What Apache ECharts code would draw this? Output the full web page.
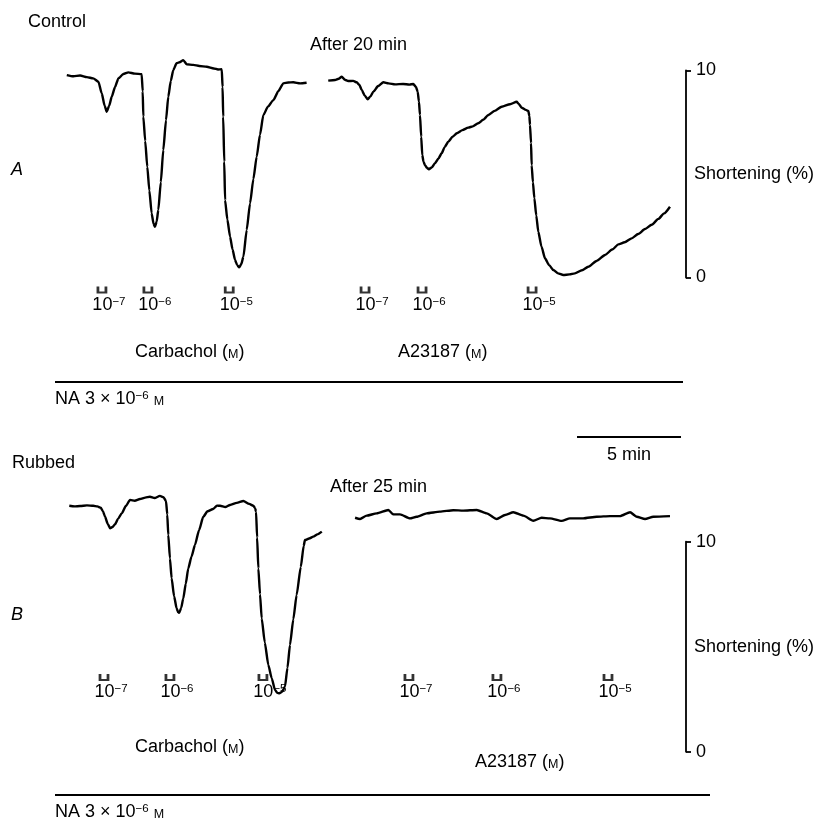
<!DOCTYPE html>
<html><head><meta charset="utf-8">
<script src="https://cdn.jsdelivr.net/npm/echarts@6/dist/echarts.min.js"></script>
<style>html,body{margin:0;padding:0;background:#fff}#c{width:830px;height:819px}</style>
</head><body><div id="c"></div>
<script>
// ---- DATA (time in min, shortening in %) ----
const ctrlCarbachol = [[0.23,9.78],[0.55,9.72],[0.87,9.76],[1.2,9.68],[1.5,9.62],[1.75,9.46],[1.91,8.9],[2.05,8.3],[2.15,8.01],[2.27,8.3],[2.39,8.73],[2.55,9.2],[2.71,9.62],[2.95,9.83],[3.19,9.91],[3.5,9.85],[3.83,9.82],[3.88,9.0],[3.91,7.77],[4.0,6.6],[4.1,5.35],[4.2,4.2],[4.31,3.1],[4.4,2.6],[4.47,2.45],[4.55,2.7],[4.63,3.26],[4.75,4.6],[4.87,6.16],[5.0,7.6],[5.11,8.73],[5.23,9.5],[5.35,10.02],[5.51,10.35],[5.65,10.4],[5.83,10.5],[6.0,10.3],[6.31,10.27],[6.6,10.22],[6.96,10.18],[7.3,10.1],[7.5,10.05],[7.68,10.06],[7.72,9.2],[7.75,7.77],[7.8,5.6],[7.84,3.74],[7.95,2.8],[8.08,1.97],[8.2,1.35],[8.32,0.85],[8.42,0.6],[8.52,0.49],[8.62,0.65],[8.72,1.0],[8.88,2.3],[9.04,3.58],[9.2,4.75],[9.36,5.84],[9.52,6.9],[9.68,7.85],[9.9,8.25],[10.16,8.57],[10.4,9.0],[10.64,9.38],[10.88,9.42],[11.12,9.43],[11.45,9.38],[11.76,9.41]];
const ctrlA23187 = [[12.8,9.51],[13.13,9.54],[13.3,9.6],[13.45,9.7],[13.6,9.55],[13.76,9.49],[14.0,9.5],[14.17,9.43],[14.3,9.3],[14.41,9.06],[14.55,8.8],[14.7,8.61],[14.83,8.75],[14.97,8.98],[15.2,9.25],[15.45,9.43],[15.7,9.38],[16.01,9.33],[16.4,9.35],[16.7,9.32],[16.89,9.35],[17.02,9.2],[17.1,8.98],[17.16,8.5],[17.21,7.85],[17.27,6.8],[17.32,5.92],[17.38,5.6],[17.45,5.43],[17.54,5.3],[17.64,5.23],[17.78,5.32],[17.93,5.52],[18.1,5.75],[18.25,6.0],[18.4,6.3],[18.57,6.56],[18.78,6.8],[18.98,6.97],[19.25,7.12],[19.53,7.24],[19.75,7.3],[20.01,7.45],[20.25,7.62],[20.5,7.85],[20.8,8.05],[21.14,8.25],[21.54,8.37],[21.86,8.49],[21.95,8.4],[22.1,8.2],[22.3,8.1],[22.42,8.04],[22.47,7.8],[22.5,7.37],[22.55,6.5],[22.58,5.43],[22.64,4.6],[22.71,3.83],[22.8,3.0],[22.9,2.21],[23.05,1.5],[23.22,0.93],[23.42,0.6],[23.62,0.36],[23.85,0.2],[24.1,0.12],[24.4,0.15],[24.66,0.2],[25.0,0.35],[25.3,0.52],[25.7,0.8],[26.11,1.09],[26.45,1.35],[26.75,1.6],[27.05,1.7],[27.39,1.89],[27.7,2.1],[28.03,2.34],[28.35,2.55],[28.67,2.83],[28.95,3.1],[29.23,3.42]];
const rubCarbachol = [[0.35,11.71],[0.6,11.68],[0.87,11.7],[1.2,11.73],[1.5,11.71],[1.7,11.68],[1.86,11.62],[1.97,11.45],[2.07,11.19],[2.2,10.85],[2.31,10.64],[2.43,10.7],[2.55,10.83],[2.7,11.1],[2.87,11.35],[3.07,11.7],[3.27,11.99],[3.5,11.95],[3.75,12.03],[4.0,12.1],[4.23,12.14],[4.45,12.08],[4.71,12.18],[4.88,12.12],[5.0,11.94],[5.06,11.3],[5.11,10.32],[5.19,9.2],[5.27,8.26],[5.39,7.4],[5.51,6.83],[5.58,6.65],[5.64,6.62],[5.73,6.85],[5.83,7.3],[5.95,8.0],[6.07,8.73],[6.23,9.3],[6.39,9.84],[6.59,10.55],[6.79,11.19],[7.0,11.45],[7.27,11.56],[7.45,11.72],[7.6,11.71],[7.85,11.65],[8.08,11.75],[8.4,11.85],[8.72,11.94],[9.0,11.8],[9.2,11.71],[9.28,11.6],[9.33,11.43],[9.38,10.2],[9.44,8.73],[9.52,7.5],[9.6,6.35],[9.75,5.2],[9.92,4.13],[10.08,3.5],[10.24,2.94],[10.35,2.8],[10.45,2.78],[10.58,2.85],[10.72,3.1],[10.84,4.0],[10.96,5.08],[11.12,6.3],[11.28,7.46],[11.48,8.8],[11.62,9.8],[11.68,10.08],[11.88,10.15],[12.08,10.24],[12.28,10.35],[12.49,10.48]];
const rubA23187 = [[14.09,11.14],[14.33,11.08],[14.65,11.24],[15.13,11.35],[15.69,11.51],[15.93,11.3],[16.25,11.3],[16.73,11.11],[17.05,11.19],[17.53,11.35],[18.17,11.43],[18.81,11.5],[19.29,11.48],[19.94,11.51],[20.42,11.35],[20.9,11.08],[21.3,11.27],[21.7,11.4],[22.18,11.24],[22.66,11.0],[23.06,11.14],[23.46,11.11],[24.02,10.99],[24.42,11.11],[25.06,11.11],[25.71,11.19],[26.35,11.22],[26.83,11.22],[27.31,11.4],[27.63,11.19],[28.03,11.08],[28.43,11.19],[29.23,11.22]];
const doseExponents = ['\u22127', '\u22126', '\u22125'];
const ctrlCarbDoseTimes = [1.92, 4.13, 8.04];
const ctrlA23DoseTimes = [14.57, 17.31, 22.60];
const rubCarbDoseTimes = [2.02, 5.19, 9.66];
const rubA23DoseTimes = [16.68, 20.91, 26.25];
const shorteningTicks = [0, 10];
const timeBarMinutes = 5;

// ---- STYLE ----
const FF = '"Liberation Sans", Arial, "DejaVu Sans", sans-serif';
const FS = 18;
const txt = {fontFamily: FF, fontSize: FS, fill: '#000', verticalAlign: 'bottom'};
const rich = {
  t: {fontFamily: FF, fontSize: FS, color: '#000', fill: '#000', verticalAlign: 'bottom'},
  sc: {fontFamily: FF, fontSize: 12.5, color: '#000', fill: '#000', verticalAlign: 'bottom'},
  e: {fontFamily: FF, fontSize: 11.5, color: '#000', fill: '#000', verticalAlign: 'top'}
};
const bracket = 'path://M0,0L0,7L10,7L10,0';

const chart = echarts.init(document.getElementById('c'), null, {renderer: 'canvas'});

function yAxisCfg(g) {
  return {
    gridIndex: g, type: 'value', position: 'right',
    min: shorteningTicks[0], max: shorteningTicks[1], interval: shorteningTicks[1] - shorteningTicks[0],
    splitLine: {show: false},
    axisLine: {show: true, onZero: false, lineStyle: {color: '#000', width: 1.8}},
    axisTick: {show: true, length: 5, lineStyle: {color: '#000', width: 1.8}},
    axisLabel: {color: '#000', fontSize: FS, fontFamily: FF, margin: 10},
    name: 'Shortening (%)', nameLocation: 'middle', nameRotate: 0, nameGap: 8, nameMoveOverlap: false,
    nameTextStyle: {color: '#000', fontSize: FS, fontFamily: FF, align: 'left', verticalAlign: 'middle'}
  };
}
function trace(g, data) {
  return {type: 'line', xAxisIndex: g, yAxisIndex: g, data: data, symbol: 'none', showSymbol: false,
    smooth: 0.2, smoothMonotone: 'x', clip: false, lineStyle: {color: '#000', width: 2.4}, animation: false, silent: true};
}
function doses(g, times, yPos) {
  return {type: 'scatter', xAxisIndex: g, yAxisIndex: g, clip: false, animation: false, silent: true,
    data: times.map(t => [t, yPos]), symbol: bracket, symbolSize: [8, 6],
    itemStyle: {color: 'rgba(0,0,0,0)', borderColor: '#000', borderWidth: 2.4},
    label: {show: true, position: 'bottom', distance: 2, offset: [7, 0], color: '#000', opacity: 1,
      formatter: p => '{t|10}{e|' + doseExponents[p.dataIndex] + '}', rich: rich}};
}

const option = {
  backgroundColor: '#fff',
  animation: false,
  grid: [
    {left: 62, top: 70.5, width: 624, height: 207, containLabel: false, outerBoundsMode: 'none'},
    {left: 62, top: 541.7, width: 624, height: 210, containLabel: false, outerBoundsMode: 'none'}
  ],
  xAxis: [
    {gridIndex: 0, type: 'value', min: 0, max: 30, show: false},
    {gridIndex: 1, type: 'value', min: 0, max: 30, show: false}
  ],
  yAxis: [yAxisCfg(0), yAxisCfg(1)],
  series: [
    trace(0, ctrlCarbachol), trace(0, ctrlA23187),
    trace(1, rubCarbachol), trace(1, rubA23187),
    doses(0, ctrlCarbDoseTimes, -0.58), doses(0, ctrlA23DoseTimes, -0.58),
    doses(1, rubCarbDoseTimes, 3.56), doses(1, rubA23DoseTimes, 3.56)
  ]
};
chart.setOption(option);

// time scale bar length through the x axis scale
const barStart = 24.76;
const bx0 = chart.convertToPixel({xAxisIndex: 0}, barStart);
const bx1 = chart.convertToPixel({xAxisIndex: 0}, barStart + timeBarMinutes);

function T(x, y, text, extra) {
  return {type: 'text', x: x, y: y, silent: true,
    style: Object.assign({text: text, rich: rich, align: 'left'}, txt, extra || {})};
}
function L(x1, y1, x2, y2) {
  return {type: 'line', silent: true, shape: {x1, y1, x2, y2}, style: {stroke: '#000', lineWidth: 2}};
}
chart.setOption({graphic: [
  T(28, 31, 'Control'),
  T(310, 54, 'After 20 min'),
  T(11, 179, 'A', {fontStyle: 'italic'}),
  T(135, 361, '{t|Carbachol (}{sc|M}{t|)}'),
  T(398, 361, '{t|A23187 (}{sc|M}{t|)}'),
  L(55, 382, 683, 382),
  T(55, 408, '{t|NA 3 \u00d7 10}{e|\u22126}{t| }{sc|M}'),
  L(bx0, 437, bx1, 437),
  T((bx0 + bx1) / 2, 464, '5 min', {align: 'center'}),
  T(12, 472, 'Rubbed'),
  T(330, 496, 'After 25 min'),
  T(11, 624, 'B', {fontStyle: 'italic'}),
  T(135, 756, '{t|Carbachol (}{sc|M}{t|)}'),
  T(475, 771, '{t|A23187 (}{sc|M}{t|)}'),
  L(55, 795, 710, 795),
  T(55, 821, '{t|NA 3 \u00d7 10}{e|\u22126}{t| }{sc|M}')
]});
</script></body></html>
